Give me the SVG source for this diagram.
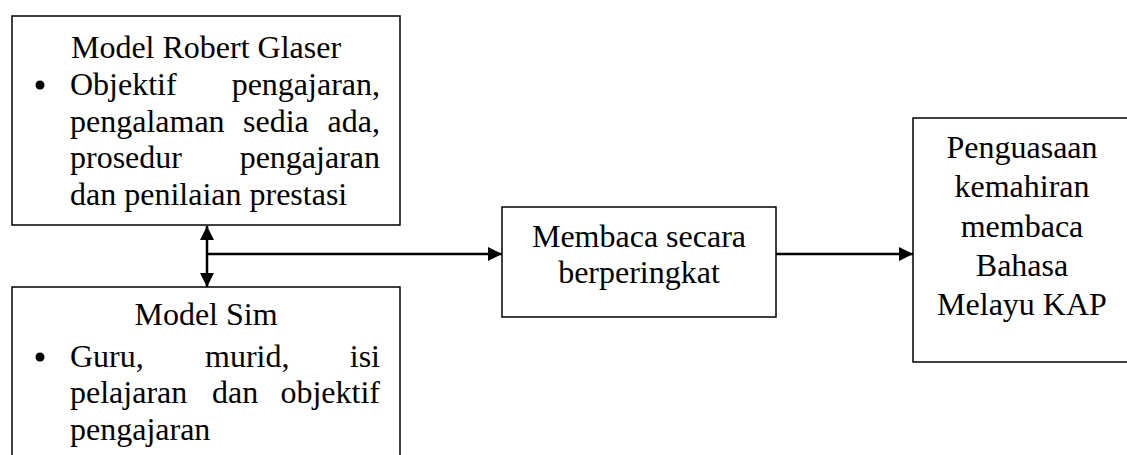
<svg xmlns="http://www.w3.org/2000/svg" width="1127" height="455" viewBox="0 0 1127 455">
<defs>
<style>
.box{fill:#fff;stroke:#000;stroke-width:1.5}
.t{font-family:"Liberation Serif","Times New Roman",serif;font-size:32px;fill:#000}
.c{text-anchor:middle}
.e{text-anchor:end}
.ln{stroke:#000;stroke-width:2.5;fill:none}
</style>
<marker id="ah" viewBox="0 0 14 14" refX="14" refY="7" markerWidth="14" markerHeight="14" markerUnits="userSpaceOnUse" orient="auto-start-reverse">
<path d="M0,0 L14,7 L0,14 Z" fill="#000"/>
</marker>
</defs>
<rect width="1127" height="455" fill="#fff"/>
<g id="glaser">
<rect class="box" x="12" y="16" width="388" height="209"/>
<text class="t c" x="206" y="58">Model Robert Glaser</text>
<circle cx="40" cy="85" r="4.5" fill="#000"/>
<text class="t" x="70" y="95">Objektif</text>
<text class="t e" x="380" y="95">pengajaran,</text>
<text class="t" x="70" y="132">pengalaman</text>
<text class="t" x="243" y="132">sedia</text>
<text class="t e" x="380" y="132">ada,</text>
<text class="t" x="70" y="168">prosedur</text>
<text class="t e" x="380" y="168">pengajaran</text>
<text class="t" x="70" y="205">dan penilaian prestasi</text>
</g>
<g id="sim">
<rect class="box" x="12" y="287" width="388" height="180"/>
<text class="t c" x="206" y="325">Model Sim</text>
<circle cx="40" cy="357" r="4.5" fill="#000"/>
<text class="t" x="70" y="367">Guru,</text>
<text class="t" x="205" y="367">murid,</text>
<text class="t e" x="380" y="367">isi</text>
<text class="t" x="70" y="403">pelajaran</text>
<text class="t" x="212" y="403">dan</text>
<text class="t e" x="380" y="403">objektif</text>
<text class="t" x="70" y="440">pengajaran</text>
</g>
<g id="membaca">
<rect class="box" x="502" y="207" width="274" height="110"/>
<text class="t c" x="639" y="247">Membaca secara</text>
<text class="t c" x="639" y="283">berperingkat</text>
</g>
<g id="penguasaan">
<rect class="box" x="913" y="118" width="220" height="244"/>
<text class="t c" x="1022" y="158">Penguasaan</text>
<text class="t c" x="1022" y="197">kemahiran</text>
<text class="t c" x="1022" y="237">membaca</text>
<text class="t c" x="1022" y="276">Bahasa</text>
<text class="t c" x="1022" y="315">Melayu KAP</text>
</g>
<g id="connectors">
<line class="ln" x1="207" y1="226" x2="207" y2="287" marker-start="url(#ah)" marker-end="url(#ah)"/>
<line class="ln" x1="207" y1="254" x2="502" y2="254" marker-end="url(#ah)"/>
<line class="ln" x1="776" y1="254" x2="913" y2="254" marker-end="url(#ah)"/>
</g>
</svg>
